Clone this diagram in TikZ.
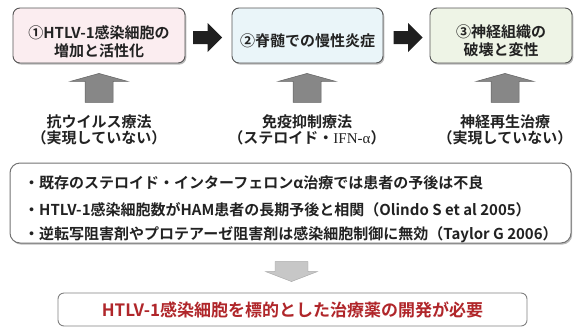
\documentclass[tikz,border=0pt]{standalone}
\usepackage{fontspec}
\setmainfont{Noto Sans CJK JP}[BoldFont={Noto Sans CJK JP Bold}]
\newfontfamily\serifpart{Liberation Serif}
\usetikzlibrary{shadows,calc}
\definecolor{pinkfill}{HTML}{FBEDF0}
\definecolor{bluefill}{HTML}{EAF5F9}
\definecolor{greenfill}{HTML}{EEF4E6}
\definecolor{boxline}{HTML}{555555}
\definecolor{txt}{HTML}{222222}
\definecolor{redtxt}{HTML}{B0262A}
\newcommand{\lpar}{{\kern-0.4em（}}
\newcommand{\rpar}{{）\kern-0.4em}}
\begin{document}
\begin{tikzpicture}[x=1pt,y=-1pt,text=txt,
  stagebox/.style={draw=boxline, line width=0.9pt, rounded corners=7pt,
    drop shadow={shadow xshift=1.3pt,shadow yshift=-1.6pt,fill=black!50,opacity=0.55},
    minimum height=55pt, inner sep=0pt},
  stagetext/.style={font=\fontsize{15}{18}\selectfont\bfseries, align=center, inner sep=0pt},
  lbl/.style={font=\fontsize{15}{16}\selectfont\bfseries, inner sep=0pt},
  listtext/.style={font=\fontsize{15}{16}\selectfont\bfseries, anchor=west, inner sep=0pt},
  darrow/.style={fill=black!88},
  uparrow/.style={fill=black!47, draw=black!62, line width=0.5pt},
  downarrow/.style={fill=black!22, draw=black!35, line width=0.4pt}]
\useasboundingbox (0,0) rectangle (577,327);

% stage boxes
\node[stagebox, fill=pinkfill, minimum width=172pt] (b1) at (99,35.5) {};
\node[stagebox, fill=bluefill, minimum width=151pt] (b2) at (307.5,35.5) {};
\node[stagebox, fill=greenfill, minimum width=142pt] (b3) at (501,35.5) {};
\node[stagetext] (t1) at ($(b1.center)+(0,6)$) {①HTLV-1感染細胞の\\増加と活性化};
\node[stagetext] (t2) at ($(b2.center)+(0,5)$) {②脊髄での慢性炎症};
\node[stagetext] (t3) at ($(b3.center)+(0,5)$) {③神経組織の\\破壊と変性};

% right block arrows
\coordinate (r1) at ($(b1.east)!0.5!(b2.west)+(-1,2)$);
\coordinate (r2) at ($(b2.east)!0.5!(b3.west)+(1.5,2)$);
\foreach \c in {r1,r2}{
  \fill[darrow, shift={(\c)}] (-14.5,-6.5) -- (0,-6.5) -- (0,-14.5) -- (14.5,0)
    -- (0,14.5) -- (0,6.5) -- (-14.5,6.5) -- cycle;
}

% labels
\node[lbl] (l1a) at (99,122) {抗ウイルス療法};
\node[lbl] (l1b) at (99,138) {\lpar 実現していない\rpar};
\node[lbl] (l2a) at (307,122) {免疫抑制療法};
\node[lbl] (l2b) at (307,138) {\lpar ステロイド・{\serifpart\mdseries IFN-α}\rpar};
\node[lbl] (l3a) at (505,122) {神経再生治療};
\node[lbl] (l3b) at (505,138) {\lpar 実現していない\rpar};

% up arrows
\foreach \c/\b in {u1/b1,u2/b2,u3/b3}{
  \coordinate (\c) at (\b.south);
}
\foreach \c/\dx in {u1/0,u2/-0.5,u3/4}{
  \filldraw[uparrow, shift={($(\c)+(\dx,0)$)}] (0,10) -- (29,18) -- (14,18) -- (14,39)
    -- (-14,39) -- (-14,18) -- (-29,18) -- cycle;
}

% list box
\node[draw=black!55, line width=1pt, rounded corners=10pt, fill=white,
  drop shadow={shadow xshift=1.2pt,shadow yshift=-1.6pt,fill=black!50,opacity=0.55},
  minimum width=561pt, minimum height=80pt] (lb) at (290.5,203) {};
\node[listtext] (i1) at (24,183) {・既存のステロイド・インターフェロンα治療では患者の予後は不良};
\node[listtext] (i2) at (24,210) {・HTLV-1感染細胞数がHAM患者の長期予後と相関（Olindo S et al 2005）};
\node[listtext] (i3) at (24,235) {・逆転写阻害剤やプロテアーゼ阻害剤は感染細胞制御に無効（Taylor G 2006）};

% conclusion box
\node[draw=black!50, line width=0.9pt, rounded corners=6pt, fill=white,
  minimum width=469pt, minimum height=33pt, text=redtxt,
  font=\fontsize{17}{18}\selectfont\bfseries] (cb) at (292.5,309.5)
  {HTLV-1感染細胞を標的とした治療薬の開発が必要};

% down arrow
\coordinate (dm) at ($(cb.north)+(-1,-21)$);
\filldraw[downarrow, shift={(dm)}] (-16.5,-10) -- (16.5,-10) -- (16.5,0) -- (26,0)
  -- (0,10) -- (-26,0) -- (-16.5,0) -- cycle;
\end{tikzpicture}
\end{document}
